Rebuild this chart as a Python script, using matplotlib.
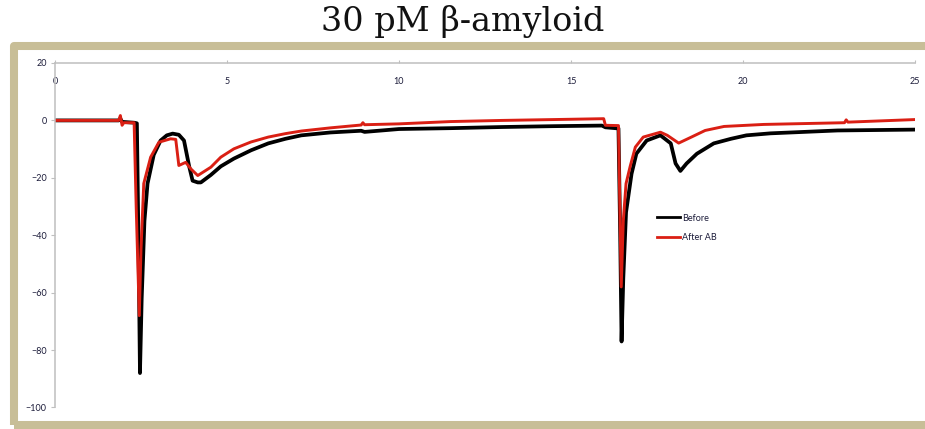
import numpy as np
import matplotlib.pyplot as plt
from matplotlib.patches import Rectangle

# trace "Before" (time, current)
t_before = [0.0, 1.85, 1.90, 1.95, 2.30, 2.38, 2.43, 2.47, 2.52, 2.60,
            2.69, 2.87, 3.07, 3.25, 3.42, 3.60, 3.75, 3.90, 4.00, 4.15,
            4.24, 4.53, 4.82, 5.20, 5.70, 6.20, 6.70, 7.16, 8.00, 8.90,
            9.00, 10.0, 11.5, 13.0, 14.5, 15.9, 16.0, 16.38, 16.43, 16.47,
            16.52, 16.60, 16.76, 16.90, 17.20, 17.60, 17.90, 18.04, 18.18, 18.36,
            18.66, 19.15, 19.65, 20.10, 20.80, 22.75, 25.0]
v_before = [0.0, 0.0, 0.6, -0.5, -0.8, -1.0, -45, -88, -62, -35,
            -22, -12, -7, -5.2, -4.6, -5.0, -7, -16, -21, -21.6,
            -21.6, -19, -16, -13.3, -10.4, -8, -6.4, -5.2, -4.2, -3.6,
            -4.0, -3.0, -2.7, -2.3, -2.0, -1.8, -2.4, -2.8, -40, -77,
            -55, -32, -18.6, -11.6, -7, -5.2, -8, -15, -17.6, -15,
            -11.6, -8, -6.4, -5.2, -4.5, -3.5, -3.2]

# trace "After AB"
t_after = [0.0, 1.85, 1.90, 1.95, 2.00, 2.30, 2.36, 2.45, 2.50, 2.58,
           2.78, 3.02, 3.36, 3.51, 3.60, 3.80, 3.95, 4.15, 4.53, 4.82,
           5.20, 5.70, 6.20, 6.70, 7.16, 8.00, 8.90, 8.95, 9.00, 10.0,
           11.5, 13.0, 14.5, 15.95, 16.0, 16.38, 16.42, 16.46, 16.52, 16.60,
           16.72, 16.87, 17.10, 17.60, 17.80, 18.13, 18.50, 18.90, 19.45, 20.60,
           22.95, 23.0, 23.05, 25.0]
v_after = [0.0, 0.0, 1.7, -1.7, -0.8, -0.8, -30, -68, -45, -22,
           -12.8, -7.6, -6.4, -6.6, -15.7, -14.6, -16.9, -19.2, -16.3, -12.8,
           -9.9, -7.5, -5.8, -4.6, -3.7, -2.6, -1.6, -0.8, -1.5, -1.2,
           -0.4, 0.0, 0.3, 0.6, -1.7, -1.8, -30, -58, -35, -22,
           -16, -9.3, -5.8, -4.1, -5.2, -7.9, -5.8, -3.5, -2.1, -1.4,
           -0.8, 0.2, -0.6, 0.3]

x_ticks = [0, 5, 10, 15, 20, 25]
y_ticks = [-100, -80, -60, -40, -20, 0, 20]

W, H = 925, 429
fig = plt.figure(figsize=(W / 100, H / 100), dpi=100)

# tan frame round the chart (right edge runs off the picture)
frame = Rectangle((14 / W, 1 - 424.5 / H), 940 / W, (424.5 - 46) / H,
                  transform=fig.transFigure, fill=False, edgecolor='#C8BE97',
                  linewidth=5.8, joinstyle='round')
fig.patches.append(frame)

fig.text(0.5, 1 - 21 / H, '30 pM β-amyloid', ha='center', va='center',
         fontsize=24, family='DejaVu Serif', color='#111111')

ax = fig.add_axes([55 / W, 1 - 407.5 / H, 860 / W, 344.5 / H])
ax.plot(t_before, v_before, color='black', lw=2.7, label='Before',
        solid_joinstyle='round')
ax.plot(t_after, v_after, color='#DA1F14', lw=2.1, label='After AB',
        solid_joinstyle='round')

ax.set_xlim(0, 25)
ax.set_ylim(-100, 20)
ax.set_xticks(x_ticks)
ax.set_yticks(y_ticks)
for side in ['right', 'bottom']:
    ax.spines[side].set_visible(False)
for side in ['top', 'left']:
    ax.spines[side].set_color('#BFBFBF')
    ax.spines[side].set_linewidth(1.1)

tick_col = '#1C1C3A'
ax.tick_params(axis='x', top=True, bottom=False, labeltop=True, labelbottom=False,
               direction='out', length=2.5, width=0.8, color='#BFBFBF',
               pad=-19, labelsize=6.5, labelcolor=tick_col)
ax.tick_params(axis='y', direction='out', length=3, width=0.8, color='#BFBFBF',
               pad=3, labelsize=6.5, labelcolor=tick_col)
for lab in ax.get_xticklabels() + ax.get_yticklabels():
    lab.set_family('Lato')

leg = ax.legend(loc='upper left', bbox_to_anchor=(0.700, 0.563), frameon=False,
                handlelength=2.6, handletextpad=0.15,
                labelspacing=1.2, borderpad=0, borderaxespad=0,
                prop={'family': 'Lato', 'size': 6.5})
for txt in leg.get_texts():
    txt.set_color(tick_col)
for ln in leg.get_lines():
    ln.set_linewidth(2.0)

fig.savefig('out.png', dpi=100)
